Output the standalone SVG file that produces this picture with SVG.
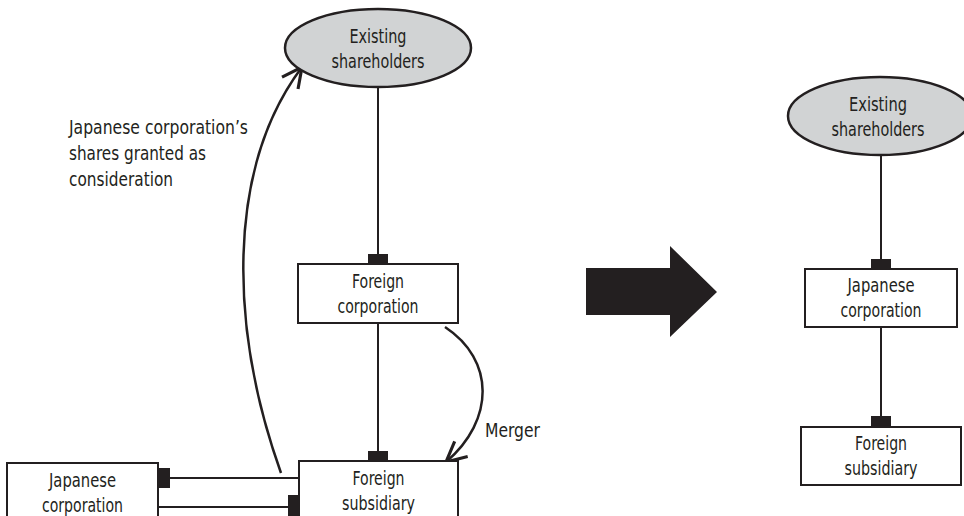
<svg xmlns="http://www.w3.org/2000/svg" width="964" height="516" viewBox="0 0 964 516">
  <style>
    .box { fill: #ffffff; stroke: #231f20; stroke-width: 2; }
    .oval { fill: #d1d3d4; stroke: #231f20; stroke-width: 2.5; }
    .lbl { font-family: "DejaVu Sans Condensed", "Liberation Sans", sans-serif; font-size: 20px; fill: #231f20; }
    .mid { text-anchor: middle; }
    .wire { stroke: #231f20; stroke-width: 2; fill: none; }
    .curve { stroke: #231f20; stroke-width: 2.5; fill: none; marker-end: url(#vee); }
    .pin { fill: #231f20; }
  </style>
  <defs>
    <marker id="vee" markerUnits="userSpaceOnUse" markerWidth="30" markerHeight="30" refX="0" refY="0" viewBox="-20 -12 24 24" orient="auto" overflow="visible">
      <path d="M-16,-8 L0,0 L-16,8" fill="none" stroke="#231f20" stroke-width="2.5" stroke-linejoin="miter"/>
    </marker>
  </defs>

  <!-- before: connectors -->
  <g id="connectors-before">
    <line class="wire" x1="378" y1="87" x2="378" y2="255"/>
    <rect class="pin" x="368" y="254" width="20" height="10"/>
    <line class="wire" x1="378" y1="323" x2="378" y2="452"/>
    <rect class="pin" x="368" y="451" width="20" height="10"/>
    <line class="wire" x1="170" y1="478" x2="299" y2="478"/>
    <rect class="pin" x="158" y="468" width="12" height="20"/>
    <line class="wire" x1="158" y1="507" x2="289" y2="507"/>
    <rect class="pin" x="288" y="495" width="12" height="21"/>
    <path class="curve" d="M281,473 C230,330 225,170 302,67"/>
    <path class="curve" d="M445,327 C495,360 495,420 446,462"/>
  </g>

  <g id="existing-shareholders-before">
    <ellipse class="oval" cx="378" cy="48" rx="93" ry="39"/>
    <text class="lbl mid" x="378" y="43" textLength="57" lengthAdjust="spacingAndGlyphs">Existing</text>
    <text class="lbl mid" x="378" y="68" textLength="93" lengthAdjust="spacingAndGlyphs">shareholders</text>
  </g>

  <g id="foreign-corporation-before">
    <rect class="box" x="298" y="264" width="160" height="59"/>
    <text class="lbl mid" x="378" y="288" textLength="52" lengthAdjust="spacingAndGlyphs">Foreign</text>
    <text class="lbl mid" x="378" y="313" textLength="81" lengthAdjust="spacingAndGlyphs">corporation</text>
  </g>

  <g id="foreign-subsidiary-before">
    <rect class="box" x="299" y="461" width="159" height="70"/>
    <text class="lbl mid" x="378.5" y="485" textLength="52" lengthAdjust="spacingAndGlyphs">Foreign</text>
    <text class="lbl mid" x="378.5" y="510" textLength="73" lengthAdjust="spacingAndGlyphs">subsidiary</text>
  </g>

  <g id="japanese-corporation-before">
    <rect class="box" x="7" y="463" width="151" height="70"/>
    <text class="lbl mid" x="82.5" y="487" textLength="67" lengthAdjust="spacingAndGlyphs">Japanese</text>
    <text class="lbl mid" x="82.5" y="512" textLength="81" lengthAdjust="spacingAndGlyphs">corporation</text>
  </g>

  <g id="consideration-label">
    <text class="lbl" x="69" y="134" textLength="179" lengthAdjust="spacingAndGlyphs">Japanese corporation’s</text>
    <text class="lbl" x="69" y="160" textLength="137" lengthAdjust="spacingAndGlyphs">shares granted as</text>
    <text class="lbl" x="69" y="186" textLength="104" lengthAdjust="spacingAndGlyphs">consideration</text>
  </g>

  <g id="merger-label">
    <text class="lbl" x="485" y="437" textLength="55" lengthAdjust="spacingAndGlyphs">Merger</text>
  </g>

  <!-- transition arrow -->
  <g id="transition-arrow">
    <polygon points="586,268 670,268 670,246 717,292 670,337 670,315 586,315" fill="#231f20"/>
  </g>

  <!-- after: connectors -->
  <g id="connectors-after">
    <line class="wire" x1="881" y1="155" x2="881" y2="260"/>
    <rect class="pin" x="871" y="259" width="20" height="10"/>
    <line class="wire" x1="881" y1="327" x2="881" y2="417"/>
    <rect class="pin" x="871" y="416" width="20" height="11"/>
  </g>

  <g id="existing-shareholders-after">
    <ellipse class="oval" cx="880" cy="116" rx="92" ry="39"/>
    <text class="lbl mid" x="878" y="111" textLength="58" lengthAdjust="spacingAndGlyphs">Existing</text>
    <text class="lbl mid" x="878" y="136" textLength="93" lengthAdjust="spacingAndGlyphs">shareholders</text>
  </g>

  <g id="japanese-corporation-after">
    <rect class="box" x="805" y="269" width="152" height="58"/>
    <text class="lbl mid" x="881" y="292" textLength="67" lengthAdjust="spacingAndGlyphs">Japanese</text>
    <text class="lbl mid" x="881" y="317" textLength="81" lengthAdjust="spacingAndGlyphs">corporation</text>
  </g>

  <g id="foreign-subsidiary-after">
    <rect class="box" x="801" y="427" width="160" height="58"/>
    <text class="lbl mid" x="881" y="450" textLength="52" lengthAdjust="spacingAndGlyphs">Foreign</text>
    <text class="lbl mid" x="881" y="475" textLength="73" lengthAdjust="spacingAndGlyphs">subsidiary</text>
  </g>
</svg>
